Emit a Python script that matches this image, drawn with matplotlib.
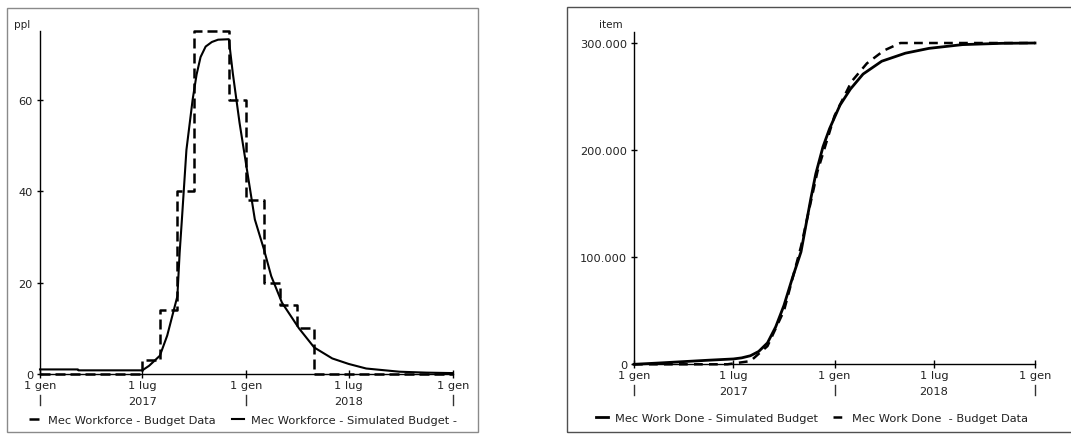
import matplotlib
matplotlib.use("Agg")
import matplotlib.pyplot as plt
import pandas as pd
from matplotlib.patches import Rectangle
from matplotlib.ticker import FuncFormatter
from matplotlib.transforms import blended_transform_factory

# Data
# Mec Workforce - Budget Data (monthly steps, ppl)
budget_wf_dates = ["2017-01-01", "2017-07-01", "2017-08-01", "2017-09-01", "2017-10-01",
                   "2017-12-01", "2018-01-01", "2018-02-01", "2018-03-01", "2018-04-01",
                   "2018-05-01", "2019-01-01"]
budget_wf = [0, 3, 14, 40, 75, 60, 38, 20, 15, 10, 0, 0]

# Mec Workforce - Simulated Budget (ppl)
sim_wf_dates = ["2017-01-01", "2017-03-09", "2017-03-10", "2017-07-01", "2017-07-13",
                "2017-08-01", "2017-08-14", "2017-09-01", "2017-09-05", "2017-09-09",
                "2017-09-17", "2017-09-28", "2017-10-05", "2017-10-12", "2017-10-21",
                "2017-11-01", "2017-11-12", "2017-12-01", "2017-12-08", "2017-12-20",
                "2018-01-01", "2018-01-16", "2018-02-01", "2018-02-14", "2018-03-05",
                "2018-04-04", "2018-05-01", "2018-06-02", "2018-07-01", "2018-08-01",
                "2018-09-29", "2018-11-15", "2019-01-01"]
sim_wf = [1.0, 1.0, 0.8, 0.8, 1.8,
          4.0, 8.4, 17.0, 26.5, 33.8,
          49.0, 60.0, 65.5, 69.3, 71.6,
          72.6, 73.1, 73.2, 65.8, 54.9,
          45.5, 33.8, 27.3, 21.4, 15.6,
          10.0, 5.8, 3.4, 2.2, 1.2,
          0.5, 0.3, 0.2]

# Mec Work Done - Simulated Budget (item)
sim_done_dates = ["2017-01-01", "2017-02-15", "2017-04-01", "2017-05-16", "2017-07-01",
                  "2017-07-16", "2017-08-01", "2017-08-16", "2017-09-01", "2017-09-16",
                  "2017-10-01", "2017-10-16", "2017-11-01", "2017-11-10", "2017-11-19",
                  "2017-11-28", "2017-12-11", "2017-12-23", "2018-01-11", "2018-01-30",
                  "2018-02-22", "2018-03-28", "2018-05-10", "2018-06-22", "2018-08-22",
                  "2018-11-01", "2019-01-01"]
sim_done = [0, 1200, 2500, 3800, 5000,
            6000, 8000, 12000, 20000, 35000,
            55000, 80000, 105000, 130000, 155000,
            178000, 203000, 220000, 242000, 257000,
            271000, 283000, 290500, 295000, 298500,
            299700, 300000]

# Mec Work Done - Budget Data (item)
budget_done_dates = ["2017-01-01", "2017-06-20", "2017-08-01", "2017-09-01", "2017-10-01",
                     "2017-11-01", "2017-12-01", "2018-01-01", "2018-02-01", "2018-03-01",
                     "2018-04-01", "2018-05-01", "2019-01-01"]
budget_done = [0, 0, 3000, 17000, 50000,
               110000, 180000, 232000, 264000, 281000,
               293000, 300000, 300000]

tick_dates = ["2017-01-01", "2017-07-01", "2018-01-01", "2018-07-01", "2019-01-01"]
tick_labels = ["1 gen", "1 lug", "1 gen", "1 lug", "1 gen"]
year_dates = ["2017-07-01", "2018-07-01"]
year_labels = ["2017", "2018"]
bar_dates = ["2017-01-01", "2018-01-01", "2019-01-01"]

plt.rcParams['font.family'] = ['DejaVu Sans']
FS = 8.2
TXT = '#222222'

fig = plt.figure(figsize=(10.71, 4.35), dpi=100)
W, H = 1071, 435

ax1 = fig.add_axes([40 / W, (H - 375) / H, 412.7 / W, 343 / H])
ax2 = fig.add_axes([634 / W, (H - 365.3) / H, 401 / W, 332 / H])


def style_time_axis(ax, ax_h_px):
    ax.set_xlim(pd.Timestamp(tick_dates[0]), pd.Timestamp(tick_dates[-1]))
    ax.set_xticks(pd.to_datetime(tick_dates))
    ax.set_xticklabels(tick_labels)
    for s in ['top', 'right']:
        ax.spines[s].set_visible(False)
    for s in ['left', 'bottom']:
        ax.spines[s].set_linewidth(1.0)
        ax.spines[s].set_color('black')
    ax.tick_params(axis='x', direction='inout', length=6, width=1, pad=1.0,
                   labelsize=FS, labelcolor=TXT)
    ax.tick_params(axis='y', direction='inout', length=5, width=1, pad=2.5,
                   labelsize=FS, labelcolor=TXT)
    trans = blended_transform_factory(ax.transData, ax.transAxes)
    for d, lab in zip(year_dates, year_labels):
        ax.text(pd.Timestamp(d), -27 / ax_h_px, lab, transform=trans, ha='center',
                va='center', fontsize=FS, color=TXT)
    for d in bar_dates:
        ax.plot([pd.Timestamp(d)] * 2, [-21 / ax_h_px, -31 / ax_h_px], transform=trans,
                color='#333333', lw=1, clip_on=False)


# Left chart: workforce
ax1.plot(pd.to_datetime(budget_wf_dates), budget_wf, drawstyle='steps-post', color='black',
         lw=1.8, dashes=(4, 2), label="Mec Workforce - Budget Data", clip_on=False)
ax1.plot(pd.to_datetime(sim_wf_dates), sim_wf, color='black', lw=1.5,
         label="Mec Workforce - Simulated Budget -", clip_on=False)
ax1.set_ylim(0, 75)
ax1.set_yticks([0, 20, 40, 60])
style_time_axis(ax1, 343)
ax1.annotate("ppl", xy=(0, 1), xycoords='axes fraction', xytext=(-10, 7),
             textcoords='offset pixels', ha='right', va='center', fontsize=7.5, color=TXT)

# Right chart: work done
ax2.plot(pd.to_datetime(sim_done_dates), sim_done, color='black', lw=2,
         label="Mec Work Done - Simulated Budget", clip_on=False)
ax2.plot(pd.to_datetime(budget_done_dates), budget_done, color='black', lw=1.8,
         dashes=(3.5, 2.5), label="Mec Work Done  - Budget Data", clip_on=False)
ax2.set_ylim(0, 310000)
ax2.set_yticks([0, 100000, 200000, 300000])
ax2.yaxis.set_major_formatter(FuncFormatter(lambda v, p: f"{int(v):,}".replace(",", ".")))
style_time_axis(ax2, 332)
ax2.annotate("item", xy=(0, 1), xycoords='axes fraction', xytext=(-11, 8),
             textcoords='offset pixels', ha='right', va='center', fontsize=7.5, color=TXT)

# Legends
h1, l1 = ax1.get_legend_handles_labels()
fig.legend(h1, l1, loc='center', bbox_to_anchor=(243 / W, (H - 421) / H), ncol=2,
           frameon=False, fontsize=FS, handlelength=1.0, handletextpad=0.6,
           columnspacing=1.5, labelcolor=TXT)
h2, l2 = ax2.get_legend_handles_labels()
fig.legend(h2, l2, loc='center', bbox_to_anchor=(812 / W, (H - 419) / H), ncol=2,
           frameon=False, fontsize=FS, handlelength=1.0, handletextpad=0.6,
           columnspacing=1.4, labelcolor=TXT)

# Panel frames
fig.add_artist(Rectangle((7 / W, (H - 433) / H), 471 / W, 424 / H, transform=fig.transFigure,
                         fill=False, ec='#8a8a8a', lw=1))
fig.add_artist(Rectangle((566.7 / W, (H - 433) / H), 0.5, 425 / H, transform=fig.transFigure,
                         fill=False, ec='#505050', lw=1))

fig.savefig("out.png", dpi=100)
